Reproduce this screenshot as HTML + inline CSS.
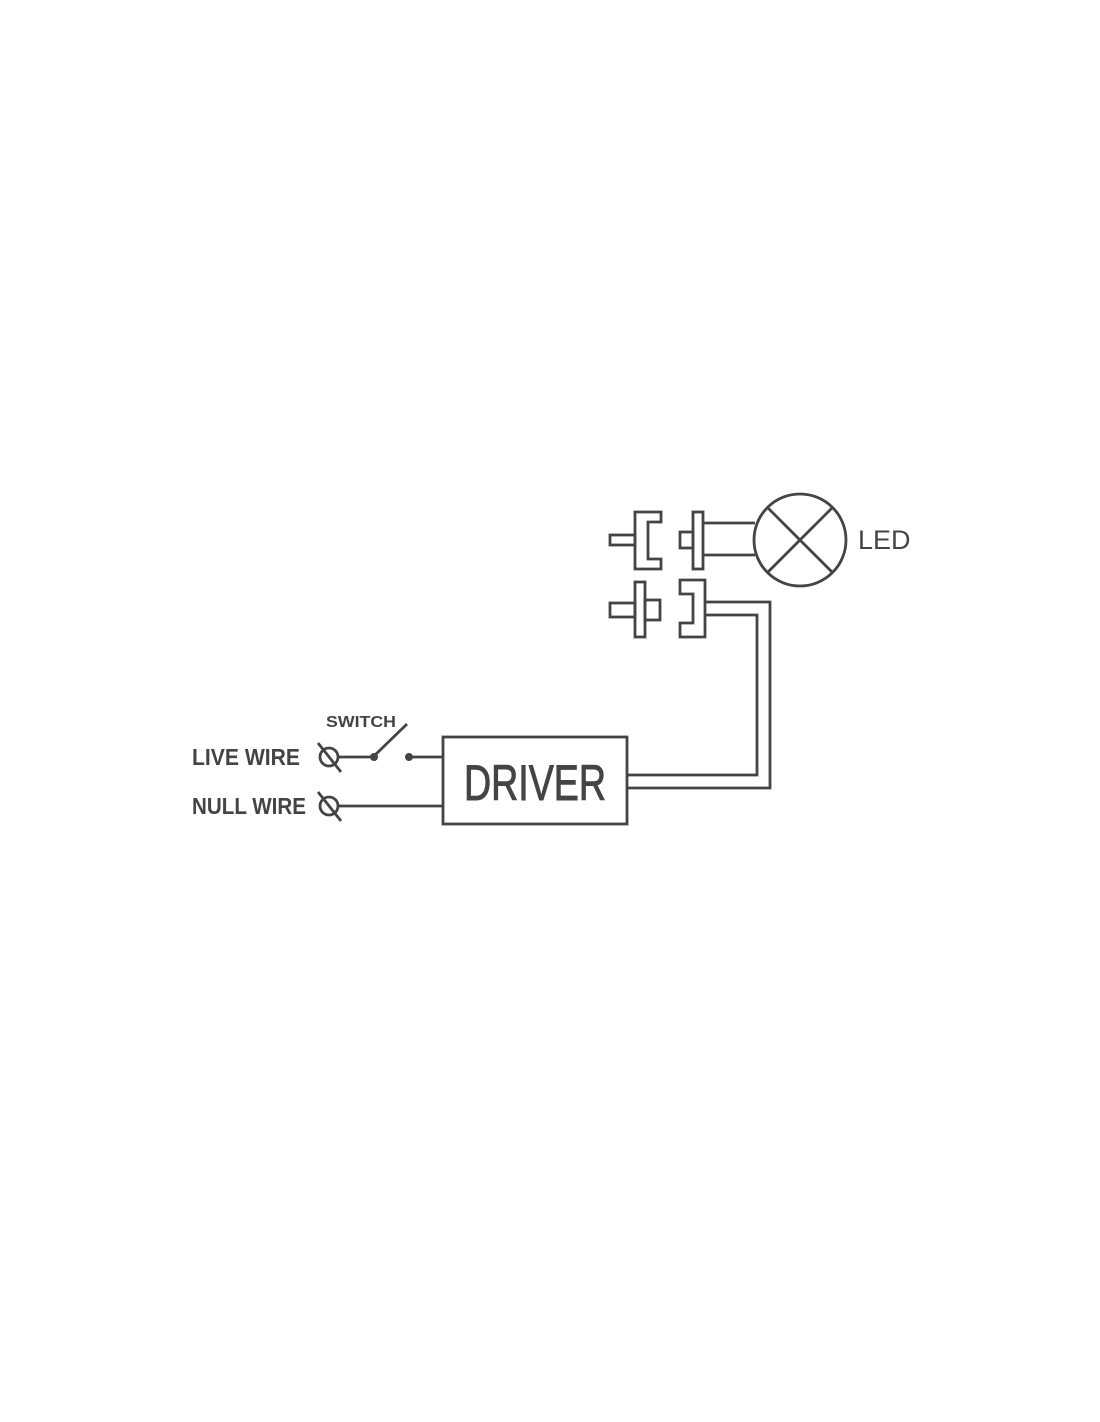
<!DOCTYPE html>
<html><head><style>
html,body{margin:0;padding:0;background:#fff;}
svg{display:block;}
text{font-family:"Liberation Sans",sans-serif;fill:#444;}
</style></head><body>
<svg width="1100" height="1422" viewBox="0 0 1100 1422" xmlns="http://www.w3.org/2000/svg">
<g fill="none" stroke="#444" stroke-width="2.8" stroke-linejoin="miter">
<circle cx="800" cy="540" r="46"/>
<line x1="767" y1="507" x2="833" y2="573"/>
<line x1="833" y1="507" x2="767" y2="573"/>
<rect x="610" y="535" width="25" height="10"/>
<path d="M661 512 H635 V569 H661 V559 H648 V522 H661 Z"/>
<rect x="680" y="532" width="13" height="16"/>
<rect x="693" y="512" width="10" height="57"/>
<path d="M703 523 H755 M703 555 H755"/>
<rect x="610" y="603" width="25" height="14"/>
<rect x="635" y="582" width="10" height="55"/>
<rect x="645" y="600" width="15" height="20"/>
<path d="M680 580 H705 V637 H680 V623 H693 V594 H680 Z"/>
<path d="M705 602 H770 V788 H627"/>
<path d="M705 615 H757 V775 H627"/>
<rect x="443" y="737" width="184" height="87"/>
<circle cx="329" cy="757" r="9"/>
<line x1="318" y1="743" x2="341" y2="772"/>
<line x1="338" y1="757" x2="372" y2="757"/>
<line x1="374" y1="756" x2="407" y2="724"/>
<line x1="409" y1="757" x2="443" y2="757"/>
<circle cx="329" cy="806" r="9"/>
<line x1="318" y1="792" x2="341" y2="821"/>
<line x1="338" y1="806" x2="443" y2="806"/>
</g>
<circle cx="374" cy="757" r="4" fill="#444"/>
<circle cx="409" cy="757" r="4" fill="#444"/>
<text x="858" y="549" font-size="27">LED</text>
<text x="535" y="800" font-size="50" text-anchor="middle" textLength="142" lengthAdjust="spacingAndGlyphs" stroke="#444" stroke-width="1">DRIVER</text>
<text x="326" y="727" font-size="16" font-weight="bold" textLength="70" lengthAdjust="spacingAndGlyphs">SWITCH</text>
<text x="192" y="765" font-size="23" font-weight="bold" textLength="108" lengthAdjust="spacingAndGlyphs">LIVE WIRE</text>
<text x="192" y="814" font-size="23" font-weight="bold" textLength="114" lengthAdjust="spacingAndGlyphs">NULL WIRE</text>
</svg>
</body></html>
